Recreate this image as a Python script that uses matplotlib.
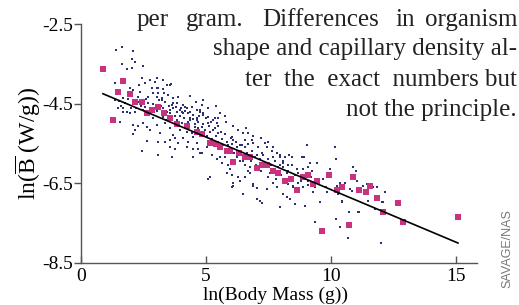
import matplotlib
matplotlib.use('Agg')
import matplotlib.pyplot as plt

plt.rcParams['font.family'] = 'Liberation Serif'
plt.rcParams['mathtext.fontset'] = 'custom'
plt.rcParams['mathtext.rm'] = 'Liberation Serif'

# mammals (small navy dots): (ln mass, ln B)
dots = [
    (1.40, -3.15), (1.64, -3.08), (2.08, -3.18), (2.04, -3.38), (2.16, -3.45), (1.64, -3.50),
    (1.84, -3.63), (2.04, -3.60), (2.48, -3.55), (2.44, -3.85), (2.76, -3.90), (3.04, -3.85),
    (1.36, -3.98), (2.32, -4.03), (2.56, -3.98), (1.96, -4.10), (2.08, -4.15), (2.36, -4.20),
    (2.84, -4.10), (3.08, -4.10), (3.28, -4.13), (3.56, -4.03), (2.88, -4.23), (3.04, -4.33),
    (3.24, -4.35), (3.48, -4.28), (3.68, -4.35), (3.88, -4.33), (4.36, -4.30), (3.36, -4.45),
    (3.64, -4.53), (3.84, -4.48), (4.08, -4.53), (4.24, -4.60), (4.44, -4.58), (4.64, -4.65),
    (2.68, -4.48), (2.48, -4.40), (2.28, -4.33), (1.68, -4.35), (1.84, -4.70), (2.16, -4.70),
    (2.48, -4.65), (2.76, -4.60), (3.04, -4.68), (3.56, -4.65), (3.84, -4.70), (4.04, -4.70),
    (1.68, -4.70), (1.96, -4.73), (1.56, -4.95), (2.08, -5.03), (2.28, -5.05), (2.48, -4.98),
    (2.16, -5.15), (2.08, -5.25), (2.64, -5.08), (2.76, -5.15), (3.04, -5.03), (3.16, -5.23),
    (3.36, -4.98), (3.56, -5.10), (3.68, -5.28), (2.64, -5.43), (3.08, -5.45), (3.36, -5.45),
    (3.56, -5.40), (3.76, -5.35), (3.88, -5.48), (4.08, -5.35), (4.28, -5.45), (4.48, -5.33),
    (4.64, -5.48), (3.56, -5.60), (3.76, -5.63), (2.44, -5.70), (3.08, -5.78), (3.64, -5.85),
    (4.24, -5.58), (4.48, -5.65), (3.84, -4.90), (4.04, -4.98), (4.24, -5.03), (4.36, -4.90),
    (4.56, -5.08), (4.68, -4.95), (3.96, -5.15), (4.24, -5.20), (4.44, -5.23), (3.28, -4.83),
    (2.88, -4.85), (2.68, -4.73), (3.56, -4.73), (4.08, -4.73), (4.48, -4.78),
    (2.96, -3.95), (3.28, -3.90), (3.44, -4.03), (3.60, -4.00), (3.04, -4.10), (3.08, -4.23),
    (3.32, -4.23), (3.24, -4.40), (3.68, -4.48), (4.16, -4.58), (4.84, -4.53), (4.76, -4.65),
    (4.88, -4.73), (3.96, -4.65), (4.28, -4.73), (4.64, -4.85), (4.36, -4.85), (5.56, -4.73),
    (5.76, -4.80), (5.36, -4.85), (5.08, -4.83),
    (4.76, -4.70), (4.88, -4.78), (4.64, -4.90), (4.84, -5.08), (5.08, -4.98), (5.28, -4.90),
    (5.44, -4.98), (5.36, -5.10), (5.16, -5.20), (5.48, -5.23), (6.04, -5.33), (6.08, -5.40),
    (6.48, -5.23), (6.68, -5.23), (6.56, -5.40), (6.84, -5.40), (6.88, -5.48), (6.44, -5.53),
    (6.24, -5.60), (5.88, -5.53), (7.36, -5.48), (7.64, -5.70), (7.84, -5.73), (7.44, -5.60),
    (7.24, -5.73), (7.04, -5.78), (6.64, -5.73), (8.08, -5.98), (8.28, -6.03), (7.96, -5.85),
    (8.84, -5.85), (8.44, -5.85), (4.68, -5.65), (4.84, -5.73), (5.04, -5.60), (5.24, -5.78),
    (5.44, -5.90), (5.56, -5.83), (5.76, -5.85), (5.64, -5.98), (5.88, -6.03), (6.36, -5.95),
    (6.56, -6.03), (6.76, -6.08),
    (5.08, -6.38), (5.84, -6.23), (5.96, -6.15), (6.04, -6.28), (6.08, -6.58), (6.04, -6.60),
    (6.48, -6.78), (6.56, -6.35), (6.76, -6.23), (6.88, -6.53), (7.04, -6.63), (7.04, -6.90),
    (7.24, -7.00), (7.44, -6.65), (7.48, -6.35), (7.68, -6.48), (7.84, -6.60), (7.96, -7.10),
    (8.08, -6.78), (8.24, -6.85), (8.36, -6.90), (8.28, -6.53), (8.56, -7.03), (8.48, -6.60),
    (6.68, -6.20), (6.28, -6.33), (3.08, -5.78), (4.48, -5.83), (4.76, -5.73), (5.16, -6.35),
    (6.36, -6.45), (6.08, -6.48), (6.88, -6.58),
    (7.16, -6.95), (7.68, -5.85), (7.96, -5.78), (8.16, -5.85), (8.32, -5.78), (7.96, -6.03),
    (8.08, -6.10), (8.24, -6.23), (8.44, -6.03), (8.48, -6.33), (8.64, -6.15), (7.96, -7.10),
    (8.36, -6.90), (8.48, -6.58), (8.68, -6.48), (8.88, -6.60), (9.08, -6.45), (8.88, -6.15),
    (9.16, -5.98), (9.24, -6.20), (9.36, -6.60), (9.56, -6.98), (9.36, -7.48), (9.84, -6.73),
    (10.24, -6.58), (10.28, -6.78), (10.44, -6.95), (10.20, -7.40), (10.36, -7.60), (10.72, -7.23),
    (10.68, -7.88), (10.56, -6.48), (10.76, -6.65), (11.04, -6.45), (10.88, -6.10), (11.12, -7.23),
    (11.44, -6.53), (11.84, -6.60), (12.16, -6.73), (12.04, -6.98), (11.76, -7.15), (12.00, -8.00),
    (9.04, -5.55), (10.16, -5.58), (8.92, -5.85), (9.44, -5.98), (9.08, -6.08), (10.20, -5.90),
    (9.96, -6.13), (11.00, -6.20), (9.28, -6.73), (8.96, -7.08), (10.36, -6.50), (10.44, -6.98),
    (10.84, -6.70), (11.28, -6.58), (11.68, -6.60), (11.48, -6.95), (12.08, -6.98), (11.08, -7.23),
    (7.68, -5.60), (8.44, -5.83), (1.36, -4.40), (1.50, -4.60), (1.70, -4.62),
    (1.52, -4.42), (1.60, -4.55), (1.75, -4.48), (1.90, -4.38), (2.00, -4.60), (2.10, -4.50),
    (2.22, -4.62), (2.30, -4.45), (2.40, -4.55), (2.55, -4.58), (2.60, -4.38), (2.70, -4.32),
    (2.90, -4.50), (2.95, -4.62), (3.12, -4.40), (3.20, -4.55), (3.30, -4.62), (3.40, -4.90),
    (3.45, -4.70), (3.52, -4.55), (3.70, -4.62), (3.75, -4.80), (3.80, -4.58), (3.95, -4.82),
    (4.00, -4.60), (4.12, -4.85), (4.18, -4.68), (4.30, -4.95), (4.38, -4.70), (4.50, -4.88),
    (4.58, -5.00), (4.70, -5.12), (4.72, -4.80), (4.90, -5.00), (4.95, -5.15), (5.00, -4.85),
    (5.05, -5.30), (5.12, -5.05), (5.20, -4.95), (5.25, -5.38), (5.30, -5.15), (5.40, -5.30),
    (5.48, -5.05), (5.50, -5.45), (5.60, -5.20), (5.65, -5.38), (5.70, -5.55), (5.78, -5.25),
    (5.85, -5.45), (5.92, -5.65), (6.00, -5.35), (6.05, -5.50), (6.12, -5.75), (6.20, -5.45),
    (6.25, -5.85), (6.35, -5.55), (6.40, -5.70), (6.50, -5.95), (6.55, -5.60), (6.62, -5.90),
    (6.70, -5.50), (6.80, -5.95), (6.85, -5.70), (6.95, -5.85), (7.00, -6.05), (7.10, -5.60),
    (7.15, -5.90), (7.20, -6.20), (7.30, -5.80), (7.35, -6.05), (7.50, -5.90), (7.55, -6.25),
    (7.60, -6.05), (7.75, -5.95), (7.80, -6.40), (7.90, -6.10), (8.00, -6.30), (8.10, -5.95),
    (8.20, -6.40), (8.30, -6.20), (8.45, -6.45), (8.55, -6.30), (8.70, -6.25), (8.80, -6.45),
    (8.95, -6.30), (9.10, -6.55), (9.20, -6.35), (9.50, -6.50), (9.70, -6.40), (9.80, -6.60),
    (4.60, -4.45), (4.90, -4.40), (5.10, -4.60), (5.40, -4.55), (5.80, -4.95), (6.10, -5.05),
    (6.30, -5.15), (5.50, -4.85), (6.60, -5.10), (6.90, -5.30), (7.20, -5.35), (7.50, -5.45),
]

# birds (magenta squares)
sq_x = [0.88, 1.28, 1.48, 1.68, 1.96, 2.16, 2.44, 2.64, 2.84, 3.08, 3.32, 3.56, 3.84, 4.24,
        4.64, 4.84, 5.16, 5.40, 5.56, 5.84, 5.96, 6.08, 6.32, 6.56, 6.76, 7.04, 7.24, 7.44,
        7.68, 7.88, 8.16, 8.40, 8.64, 8.88, 9.08, 9.28, 9.44, 9.64, 9.92, 10.24, 10.44, 10.72,
        10.88, 11.12, 11.40, 11.56, 11.84, 12.08, 12.68, 12.88, 15.08]
sq_y = [-3.63, -4.90, -4.20, -3.93, -4.25, -4.45, -4.45, -4.73, -4.65, -4.58, -4.73, -4.85,
        -5.00, -5.05, -5.20, -5.25, -5.48, -5.50, -5.60, -5.70, -5.70, -5.97, -5.73, -5.83,
        -5.83, -6.12, -6.05, -6.03, -6.20, -6.25, -6.45, -6.38, -6.68, -6.35, -6.30, -6.53,
        -6.45, -7.70, -6.28, -6.68, -6.60, -7.55, -6.33, -6.68, -6.73, -6.58, -6.88, -7.23,
        -7.00, -7.48, -7.35]

# fitted line endpoints
fit_x = [0.88, 15.08]
fit_y = [-4.25, -8.0]

xticks = [0, 5, 10, 15]
yticks = [-8.5, -6.5, -4.5, -2.5]

fig = plt.figure(figsize=(5.19, 3.05), dpi=100)
ax = fig.add_axes([0.156, 0.138, 0.763, 0.783])

dx = [p[0] for p in dots]
dy = [p[1] for p in dots]
ax.scatter(dx, dy, s=3, color="#2b2f74", marker='s', linewidths=0, zorder=2)
ax.scatter(sq_x, sq_y, s=16, color="#c8327f", marker='s', linewidths=0, zorder=3)
ax.plot(fit_x, fit_y, color="black", lw=1.2, zorder=4)

ax.set_xlim(0, 15.84)
ax.set_ylim(-8.5, -2.5)
ax.set_xticks(xticks)
ax.set_yticks(yticks)
ax.set_xticklabels([str(t) for t in xticks])
ax.set_yticklabels(["%.1f" % t for t in yticks])
for s in ['top', 'right']:
    ax.spines[s].set_visible(False)
for s in ['left', 'bottom']:
    ax.spines[s].set_color("#555555")
    ax.spines[s].set_linewidth(1.0)
ax.tick_params(axis='y', direction='out', length=5, width=1, color="#555555", labelsize=14, pad=1)
ax.tick_params(axis='x', direction='in', length=5, width=1, color="#555555", labelsize=14, pad=4)
ax.set_xlabel("ln(Body Mass (g))", fontsize=14)
ax.xaxis.set_label_coords(0.49, -0.098)
ax.set_ylabel(r"ln($\overline{\mathrm{B}}$ (W/g))", fontsize=17, labelpad=-1)

# text from the surrounding article
tkw = dict(fontsize=18, color="#222222", va="center")
fig.text(137 / 519, 1 - 20 / 305, "per", ha="left", **tkw)
fig.text(186 / 519, 1 - 20 / 305, "gram.", ha="left", **tkw)
fig.text(262 / 519, 1 - 20 / 305, "Differences", ha="left", **tkw)
fig.text(395 / 519, 1 - 20 / 305, "in", ha="left", **tkw)
fig.text(517 / 519, 1 - 20 / 305, "organism", ha="right", **tkw)
fig.text(517 / 519, 1 - 49 / 305, "shape and capillary density al-", ha="right", **tkw)
fig.text(517 / 519, 1 - 80 / 305, "ter  the  exact  numbers but", ha="right", **tkw)
fig.text(517 / 519, 1 - 110 / 305, "not the principle.", ha="right", **tkw)

fig.text(507 / 519, 1 - 249 / 305, "SAVAGE/NAS", rotation=90, ha="center", va="center",
         fontsize=9, color="#777777", family="Liberation Sans")

fig.savefig("out.png", dpi=100)
